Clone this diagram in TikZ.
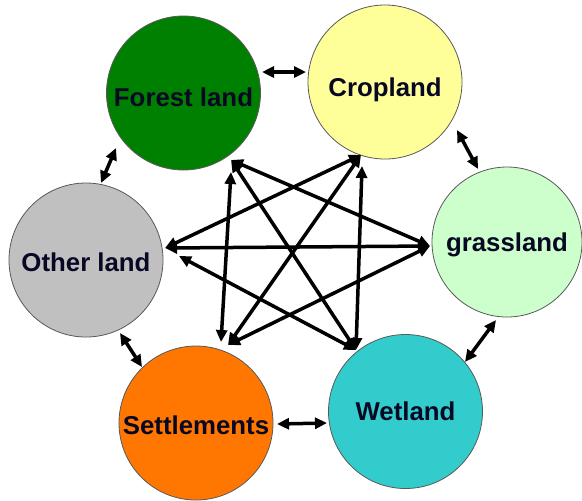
\documentclass[tikz,border=0pt]{standalone}
\usepackage{fontspec}
\setmainfont{Liberation Sans}
\usetikzlibrary{arrows.meta}
\definecolor{cForest}{RGB}{0,128,0}
\definecolor{cCrop}{RGB}{255,255,153}
\definecolor{cGrass}{RGB}{204,255,204}
\definecolor{cOther}{RGB}{192,192,192}
\definecolor{cSettle}{RGB}{255,118,0}
\definecolor{cWet}{RGB}{51,204,204}
\definecolor{cText}{RGB}{8,8,36}
\newcommand\landlbl[2]{\raisebox{-#1}[0pt][0pt]{#2}}
\begin{document}
\begin{tikzpicture}[x=0.5pt,y=-0.5pt,
  land/.style={circle,draw=black!65,line width=0.4pt,inner sep=0pt,minimum size=77pt,
    text=cText,font=\fontsize{12.9}{15}\selectfont\bfseries},
  link/.style={line width=1.75pt,black,{Triangle[length=6pt,width=5.5pt]}-{Triangle[length=6pt,width=5.5pt]}}]
\useasboundingbox (0,0) rectangle (582,500);
\fill[white] (0,0) rectangle (582,500);
% circles
\node[land,fill=cForest] (forest) at (183.5,93) {\landlbl{6.6pt}{Forest land}};
\node[land,fill=cCrop] (crop) at (385,82) {\landlbl{7.3pt}{Cropland}};
\node[land,fill=cGrass,minimum size=75pt] (grass) at (507,242) {\landlbl{4.8pt}{grassland}};
\node[land,fill=cOther] (other) at (86,260) {\landlbl{5.6pt}{Other land}};
\node[land,fill=cSettle] (settle) at (196,423) {\landlbl{5.6pt}{Settlements}};
\node[land,fill=cWet] (wet) at (405.5,411.5) {\landlbl{4.7pt}{Wetland}};
% endpoints of the interior arrows
\coordinate (f1) at (231,160);
\coordinate (f2) at (231,172);
\coordinate (c1) at (361,155);
\coordinate (c2) at (362,166);
\coordinate (o1) at (165,248);
\coordinate (o2) at (179,256);
\coordinate (g1) at (430,246);
\coordinate (s1) at (221,342);
\coordinate (s2) at (228,345);
\coordinate (w1) at (356,350);
% endpoints of the ring arrows
\coordinate (fc1) at (262,72);  \coordinate (fc2) at (306,72);
\coordinate (cg1) at (457,130); \coordinate (cg2) at (478,169);
\coordinate (fo1) at (116,148); \coordinate (fo2) at (101,183);
\coordinate (os1) at (120,333); \coordinate (os2) at (142,367);
\coordinate (sw1) at (277,424); \coordinate (sw2) at (327,423);
\coordinate (wg1) at (465,362); \coordinate (wg2) at (496,320);
% ring arrows
\draw[link] (fc1) -- (fc2);
\draw[link] (cg1) -- (cg2);
\draw[link] (fo1) -- (fo2);
\draw[link] (os1) -- (os2);
\draw[link] (sw1) -- (sw2);
\draw[link] (wg1) -- (wg2);
% interior arrows
\draw[link] (f1) -- (g1);
\draw[link] (f1) -- (w1);
\draw[link] (f2) -- (s1);
\draw[link] (c1) -- (o1);
\draw[link] (c1) -- (s2);
\draw[link] (c2) -- (w1);
\draw[link] (o1) -- (g1);
\draw[link] (o2) -- (w1);
\draw[link] (g1) -- (s2);
\end{tikzpicture}
\end{document}
